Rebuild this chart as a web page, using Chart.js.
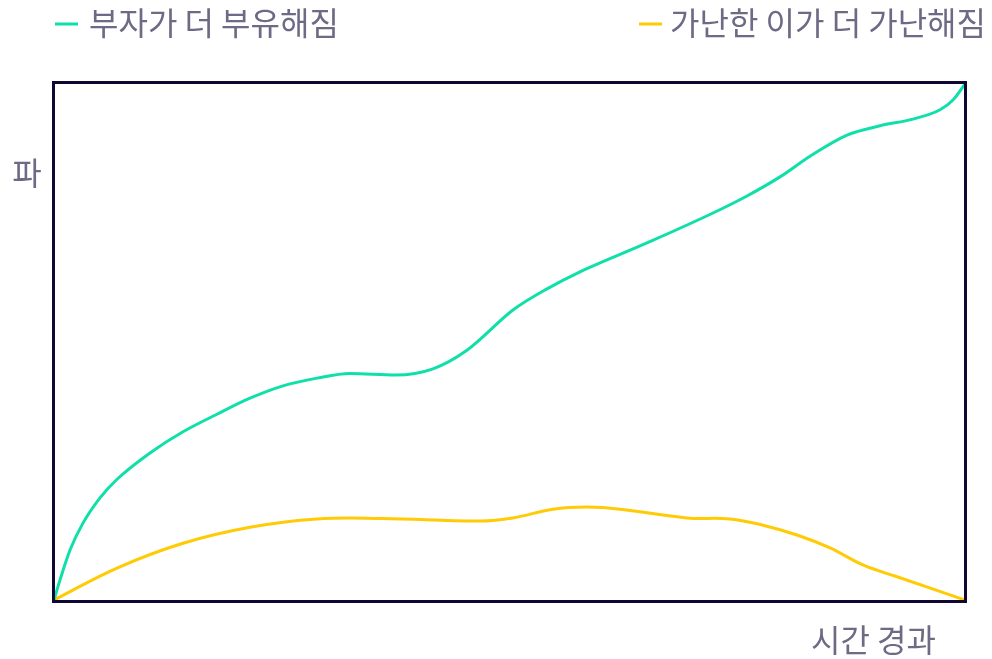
<!DOCTYPE html>
<html lang="ko">
<head>
<meta charset="utf-8">
<title>부자가 더 부유해짐</title>
<script src="https://cdn.jsdelivr.net/npm/chart.js@4/dist/chart.umd.min.js"></script>
<style>
  html, body { margin: 0; padding: 0; background: #fff; }
  #wrap { width: 992px; height: 659px; }
</style>
</head>
<body>
<div id="wrap"><canvas id="myChart" width="992" height="659"></canvas></div>
<script>
// series: time (0-100) against wealth (0-100)
const seriesNames = ["부자가 더 부유해짐", "가난한 이가 더 가난해짐"];
const richX = [0, 0.66, 1.76, 3.18, 5.05, 6.92, 10.54, 14.16, 17.89, 21.51, 25.14, 28.87, 32.49, 37.5, 41.6, 45.33, 50.38, 54.12, 57.74, 65.09, 72.34, 76.07, 79.69, 82.99, 87.05, 90.67, 94.29, 97.26, 98.68, 100];
const richY = [0, 3.9, 9.7, 14.9, 19.8, 23.4, 28.5, 32.6, 36.0, 39.1, 41.5, 43.0, 43.9, 43.6, 44.8, 48.4, 56.2, 60.3, 63.6, 69.2, 75.0, 78.3, 82.0, 86.0, 90.1, 91.9, 93.2, 95.0, 96.9, 100];
const poorX = [0, 6.92, 14.16, 21.51, 28.87, 36.0, 46.76, 50.38, 54.78, 58.51, 62.13, 69.48, 74.2, 77.83, 81.56, 85.18, 88.8, 92.54, 100];
const poorY = [0, 6.2, 11.0, 14.1, 15.7, 15.8, 15.3, 15.9, 17.6, 18.0, 17.6, 15.9, 15.7, 14.5, 12.6, 10.1, 6.8, 4.5, 0];
const xTitle = "시간 경과";
const yTitle = "파";

const GREEN = "#0fe0a9";
const YELLOW = "#ffcb05";
const TEXT = "#6e6a85";
const FRAME = "#100832";
const FONT = "'Noto Sans CJK KR', 'Noto Sans', sans-serif";

function toPoints(xs, ys) {
  return xs.map((x, i) => ({ x: x, y: ys[i] }));
}

// frame, legend and axis titles drawn straight on the canvas
const decorations = {
  id: "decorations",
  afterDraw(chart) {
    const c = chart.ctx;
    const a = chart.chartArea;
    c.save();
    c.strokeStyle = FRAME;
    c.lineWidth = 3;
    c.strokeRect(a.left - 0.5, a.top - 1.5, a.right - a.left + 1, a.bottom - a.top + 3);

    c.font = "32px " + FONT;
    c.fillStyle = TEXT;
    c.textBaseline = "middle";

    // legend
    c.lineWidth = 3;
    c.strokeStyle = GREEN;
    c.beginPath(); c.moveTo(55, 24); c.lineTo(78, 24); c.stroke();
    c.textAlign = "left";
    c.fillText(seriesNames[0], 89, 23);

    c.strokeStyle = YELLOW;
    c.beginPath(); c.moveTo(639, 24); c.lineTo(662, 24); c.stroke();
    c.textAlign = "right";
    c.fillText(seriesNames[1], 986, 23);

    // axis titles
    c.textAlign = "center";
    c.fillText(yTitle, 27, 173);
    c.textAlign = "right";
    c.fillText(xTitle, 936, 640);
    c.restore();
  }
};

const ctx = document.querySelector("#myChart").getContext("2d");
const myChart = new Chart(ctx, {
  type: "line",
  data: {
    datasets: [
      {
        label: seriesNames[0],
        data: toPoints(richX, richY),
        borderColor: GREEN,
        borderWidth: 3,
        pointRadius: 0,
        cubicInterpolationMode: "monotone",
        fill: false,
      },
      {
        label: seriesNames[1],
        data: toPoints(poorX, poorY),
        borderColor: YELLOW,
        borderWidth: 3,
        pointRadius: 0,
        tension: 0.4,
        fill: false,
      },
    ],
  },
  options: {
    responsive: false,
    animation: false,
    layout: { padding: { left: 54, top: 84, right: 27, bottom: 59 } },
    scales: {
      x: { type: "linear", min: 0, max: 100, display: false },
      y: { min: 0, max: 100, display: false },
    },
    plugins: {
      legend: { display: false },
      tooltip: { enabled: false },
    },
  },
  plugins: [decorations],
});
</script>
</body>
</html>
